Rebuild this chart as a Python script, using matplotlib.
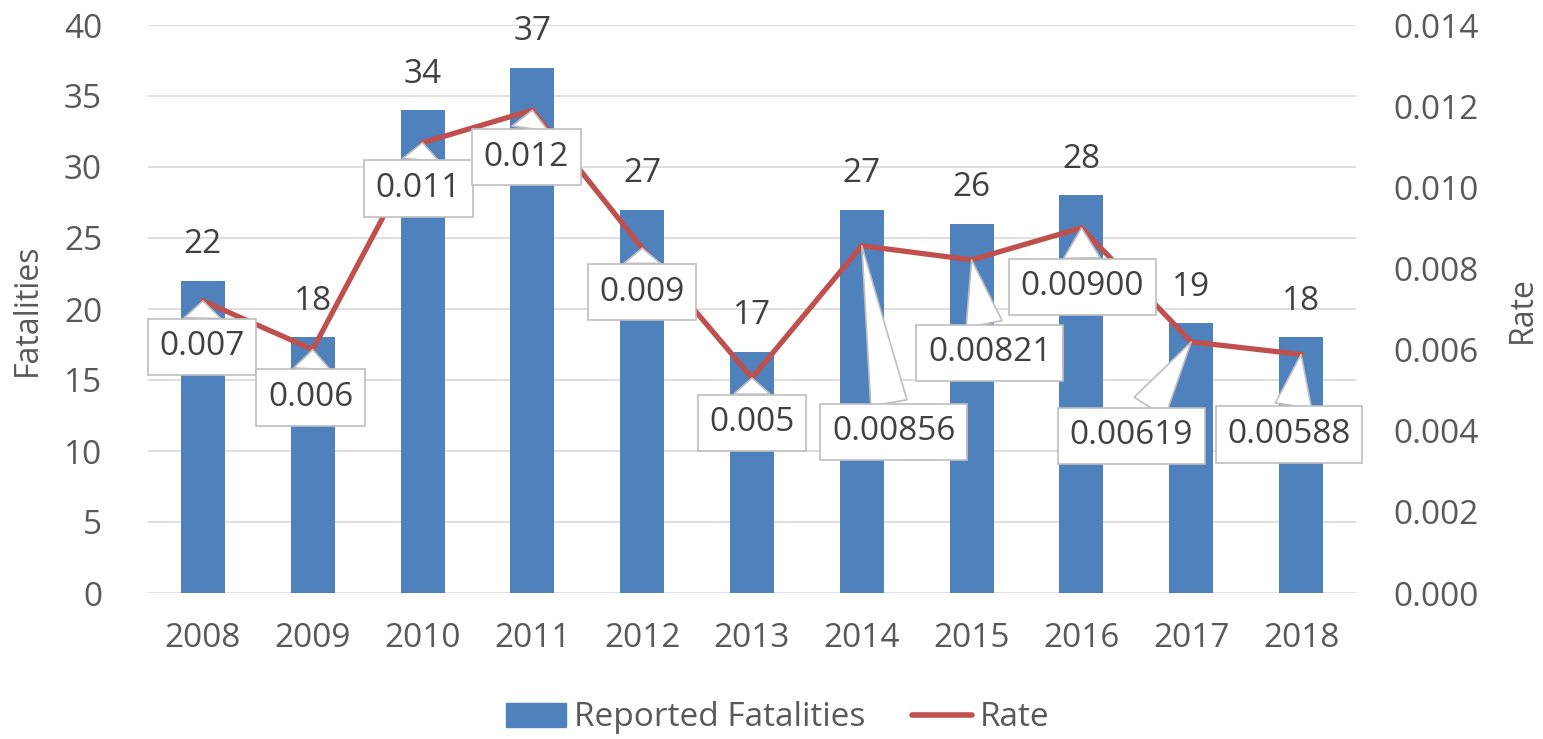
import matplotlib
matplotlib.use("Agg")
import matplotlib.pyplot as plt
from matplotlib.patches import Patch
from matplotlib.lines import Line2D
import numpy as np

years = ["2008", "2009", "2010", "2011", "2012", "2013", "2014", "2015", "2016", "2017", "2018"]
fatalities = [22, 18, 34, 37, 27, 17, 27, 26, 28, 19, 18]
rate = [0.0072, 0.0060, 0.0111, 0.0119, 0.0085, 0.0053, 0.00856, 0.00821, 0.00900, 0.00619, 0.00588]
rate_labels = ["0.007", "0.006", "0.011", "0.012", "0.009", "0.005",
               "0.00856", "0.00821", "0.00900", "0.00619", "0.00588"]

# callout offsets (pixels: dx right, dy down) - layout only
callout_offsets = [(-1, 46), (-2, 48), (-4, 46), (-6, 47), (0, 44), (0, 45),
                   (32, 186), (18, 93), (1, 59), (-60, 94), (-12, 80)]

plt.rcParams['font.family'] = ['Open Sans', 'DejaVu Sans']
TXT = '#595959'
BLUE = '#4F81BD'
RED = '#C0504D'
FS = 24

fig = plt.figure(figsize=(15.43, 7.39), dpi=100)
ax = fig.add_axes([148/1543, 1-593/739, (1356-148)/1543, (593-25)/739])
ax2 = ax.twinx()

x = np.arange(len(years))
bars = ax.bar(x, fatalities, width=0.4, color=BLUE, zorder=2)
ax.set_xlim(-0.5, len(years)-0.5)
ax.set_ylim(0, 40)
ax.set_yticks(np.arange(0, 41, 5))
ax.set_xticks(x)
ax.set_xticklabels(years)
ax.grid(axis='y', color='#D9D9D9', lw=1.2, zorder=0)
ax.set_axisbelow(True)
ax.tick_params(axis='y', length=0, pad=33, labelsize=FS, labelcolor=TXT)
ax.tick_params(axis='x', length=0, pad=21, labelsize=FS, labelcolor=TXT)
for s in ax.spines.values():
    s.set_visible(False)
ax.bar_label(bars, labels=[str(v) for v in fatalities], padding=14,
             fontsize=FS, color='#404040')

ax2.plot(x, rate, color=RED, lw=3.8, solid_joinstyle='miter', zorder=3)
ax2.set_ylim(0, 0.014)
ax2.set_yticks(np.arange(0, 0.0141, 0.002))
ax2.set_yticklabels([f"{v:.3f}" for v in np.arange(0, 0.0141, 0.002)])
ax2.tick_params(axis='y', length=0, pad=27, labelsize=FS, labelcolor=TXT)
for s in ax2.spines.values():
    s.set_visible(False)

for i, (r, lab) in enumerate(zip(rate, rate_labels)):
    dx, dy = callout_offsets[i]
    ax2.annotate(lab, xy=(x[i], r), xytext=(dx*0.72, -dy*0.72),
                 textcoords='offset points', ha='center', va='center',
                 fontsize=FS, color='#404040', zorder=6,
                 bbox=dict(boxstyle='square,pad=0.35', fc='white', ec='#BFBFBF', lw=1.2),
                 arrowprops=dict(arrowstyle='wedge,tail_width=1.1,shrink_factor=0.5',
                                 fc='white', ec='#BFBFBF', lw=1.2,
                                 shrinkA=0, shrinkB=0))

fig.text(27/1543, 1-310/739, 'Fatalities', rotation=90, ha='center', va='center',
         fontsize=FS-1, color=TXT)
fig.text(1522/1543, 1-310/739, 'Rate', rotation=90, ha='center', va='center',
         fontsize=FS-1, color=TXT)

handles = [Patch(color=BLUE), Line2D([0], [0], color=RED, lw=4, solid_capstyle='round')]
fig.legend(handles, ['Reported Fatalities', 'Rate'], loc='center',
           bbox_to_anchor=(0.504, 1-718/739), ncol=2, frameon=False,
           fontsize=FS, labelcolor=TXT, handlelength=1.8, handletextpad=0.25,
           columnspacing=1.4)

fig.savefig('out.png', dpi=100)
